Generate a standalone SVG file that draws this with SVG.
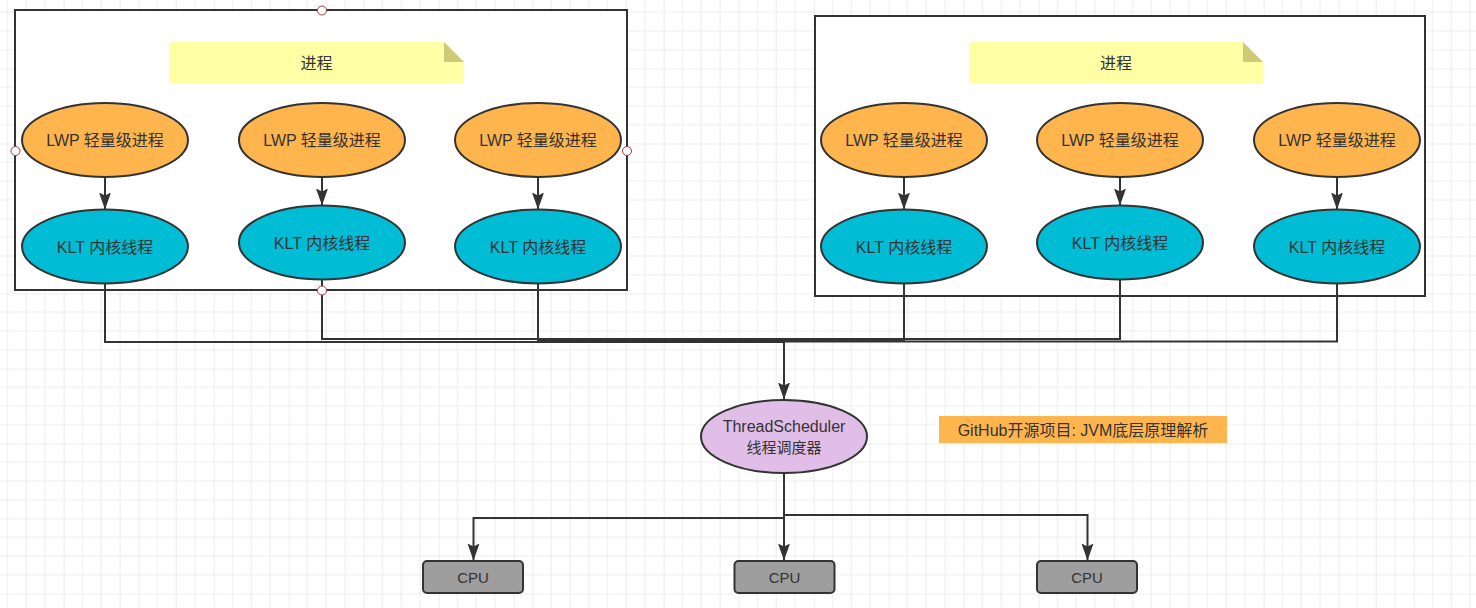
<svg xmlns="http://www.w3.org/2000/svg" width="1476" height="608" viewBox="0 0 1476 608">
<style>
text{font-family:"Liberation Sans","Noto Sans CJK SC",sans-serif;fill:#333333;text-anchor:middle;dominant-baseline:central;}
.t16{font-size:16px;}
.t15{font-size:15px;}
.box{fill:#ffffff;stroke:#333333;stroke-width:2;}
.lwp{fill:#ffb54d;stroke:#333333;stroke-width:2;}
.klt{fill:#00bcd4;stroke:#333333;stroke-width:2;}
.sched{fill:#e1bee7;stroke:#333333;stroke-width:2;}
.cpu{fill:#9e9e9e;stroke:#333333;stroke-width:2;}
.note{fill:#ffffa6;}
.fold{fill:#cccc77;}
.edge{fill:none;stroke:#333333;stroke-width:2;}
.arr{fill:none;stroke:#333333;stroke-width:2;marker-end:url(#ah);}
.handle{fill:#ffffff;stroke:#a33a3a;stroke-width:1;}
</style>
<defs>
<pattern id="grid" patternUnits="userSpaceOnUse" x="63.7" y="68.5" width="75" height="75">
<path d="M18.75,0V75M37.5,0V75M56.25,0V75M0,18.75H75M0,37.5H75M0,56.25H75" stroke="#ececec" stroke-width="1" fill="none"/>
<path d="M0,0V75M0,0H75" stroke="#dedede" stroke-width="1" fill="none"/>
</pattern>
<marker id="ah" markerUnits="userSpaceOnUse" markerWidth="18" markerHeight="13" viewBox="0 0 18 13" refX="17" refY="6.5" orient="auto">
<path d="M0,0.5 L17,6.5 L0,12.5 L3,6.5 Z" fill="#333333"/>
</marker>
</defs>
<rect x="0" y="0" width="1476" height="608" fill="#ffffff"/>
<rect x="0" y="0" width="1476" height="608" fill="url(#grid)"/>

<g id="container-left">
<rect class="box" x="15" y="10" width="612" height="280"/>
</g>
<g id="container-right">
<rect class="box" x="815" y="16" width="610" height="280"/>
</g>

<g id="note-left">
<path class="note" d="M169,42 H444 L464,62 V84 H169 Z"/>
<path class="fold" d="M444,42 L464,62 H444 Z"/>
<text class="t16" x="316.5" y="63">进程</text>
</g>
<g id="note-right">
<path class="note" d="M969,42 H1243 L1263,62 V84 H969 Z"/>
<path class="fold" d="M1243,42 L1263,62 H1243 Z"/>
<text class="t16" x="1116" y="63">进程</text>
</g>

<g id="connectors">
<path class="arr" d="M105,177 V209.5"/>
<path class="arr" d="M322,177 V205.5"/>
<path class="arr" d="M538,177 V209.5"/>
<path class="arr" d="M904,177 V209.5"/>
<path class="arr" d="M1120,177 V205.5"/>
<path class="arr" d="M1337,177 V209.5"/>
<path class="edge" d="M105,283.5 V342 H784"/>
<path class="edge" d="M322,279.5 V339 H784"/>
<path class="edge" d="M538,283.5 V341 H784"/>
<path class="edge" d="M904,283.5 V340 H784"/>
<path class="edge" d="M1120,279.5 V339 H784"/>
<path class="edge" d="M1337,283.5 V341.5 H784"/>
<path class="arr" d="M784,339 V399.5"/>
<path class="arr" d="M784,473 V518 H473.5 V560.5"/>
<path class="arr" d="M784,473 V560.5"/>
<path class="arr" d="M784,473 V515 H1087.5 V560.5"/>
</g>

<g id="lwp-l1"><ellipse class="lwp" cx="105" cy="140" rx="83" ry="37"/><text class="t16" x="105" y="140">LWP 轻量级进程</text></g>
<g id="lwp-l2"><ellipse class="lwp" cx="322" cy="140" rx="83" ry="37"/><text class="t16" x="322" y="140">LWP 轻量级进程</text></g>
<g id="lwp-l3"><ellipse class="lwp" cx="538" cy="140" rx="83" ry="37"/><text class="t16" x="538" y="140">LWP 轻量级进程</text></g>
<g id="klt-l1"><ellipse class="klt" cx="105" cy="246.5" rx="83" ry="37"/><text class="t16" x="105" y="247">KLT 内核线程</text></g>
<g id="klt-l2"><ellipse class="klt" cx="322" cy="242.5" rx="83" ry="37"/><text class="t16" x="322" y="243">KLT 内核线程</text></g>
<g id="klt-l3"><ellipse class="klt" cx="538" cy="246.5" rx="83" ry="37"/><text class="t16" x="538" y="247">KLT 内核线程</text></g>

<g id="lwp-r1"><ellipse class="lwp" cx="904" cy="140" rx="83" ry="37"/><text class="t16" x="904" y="140">LWP 轻量级进程</text></g>
<g id="lwp-r2"><ellipse class="lwp" cx="1120" cy="140" rx="83" ry="37"/><text class="t16" x="1120" y="140">LWP 轻量级进程</text></g>
<g id="lwp-r3"><ellipse class="lwp" cx="1337" cy="140" rx="83" ry="37"/><text class="t16" x="1337" y="140">LWP 轻量级进程</text></g>
<g id="klt-r1"><ellipse class="klt" cx="904" cy="246.5" rx="83" ry="37"/><text class="t16" x="904" y="247">KLT 内核线程</text></g>
<g id="klt-r2"><ellipse class="klt" cx="1120" cy="242.5" rx="83" ry="37"/><text class="t16" x="1120" y="243">KLT 内核线程</text></g>
<g id="klt-r3"><ellipse class="klt" cx="1337" cy="246.5" rx="83" ry="37"/><text class="t16" x="1337" y="247">KLT 内核线程</text></g>

<g id="handles">
<circle class="handle" cx="322" cy="10.5" r="4.5"/>
<circle class="handle" cx="15.5" cy="151" r="4.5"/>
<circle class="handle" cx="627" cy="151" r="4.5"/>
<circle class="handle" cx="322" cy="290.5" r="4.5"/>
</g>

<g id="scheduler">
<ellipse class="sched" cx="784" cy="436.5" rx="83" ry="36.5"/>
<text class="t16" x="784" y="426">ThreadScheduler</text>
<text class="t15" x="784" y="447">线程调度器</text>
</g>

<g id="github-label">
<rect x="939" y="416" width="288" height="27" fill="#ffb54d"/>
<text class="t16" x="1083" y="430">GitHub开源项目: JVM底层原理解析</text>
</g>

<g id="cpu1"><rect class="cpu" x="423" y="561" width="100" height="32" rx="4"/><text class="t15" x="473" y="577">CPU</text></g>
<g id="cpu2"><rect class="cpu" x="734.5" y="561" width="100" height="32" rx="4"/><text class="t15" x="784.5" y="577">CPU</text></g>
<g id="cpu3"><rect class="cpu" x="1037" y="561" width="100" height="32" rx="4"/><text class="t15" x="1087" y="577">CPU</text></g>
</svg>
